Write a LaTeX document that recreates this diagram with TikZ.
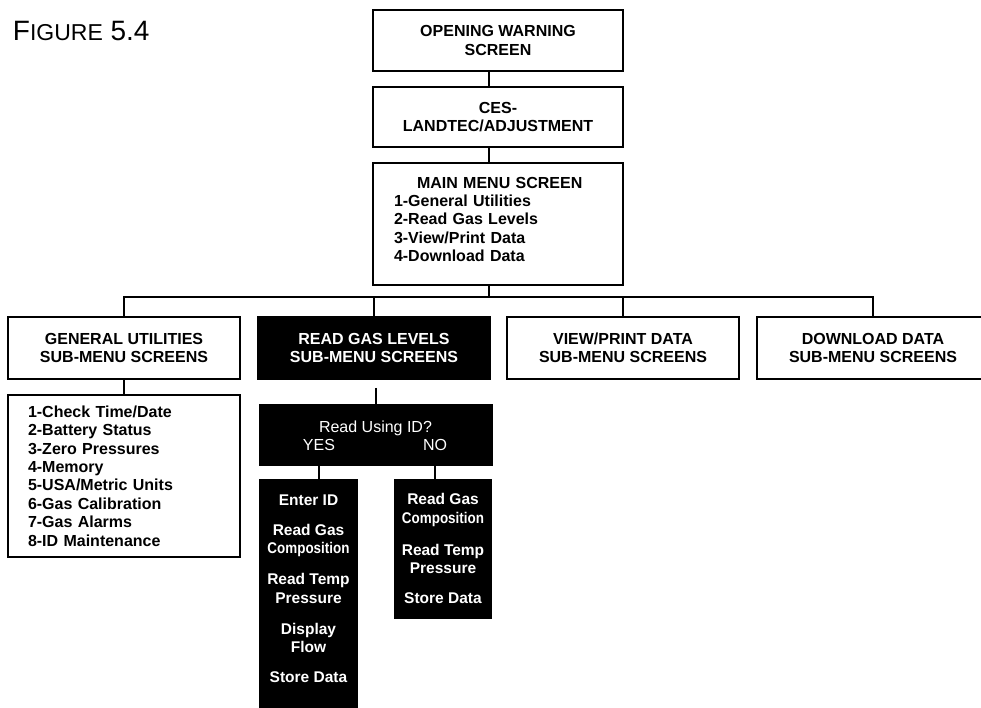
\documentclass[tikz,border=0pt]{standalone}
\usepackage{fontspec}
\usepackage{graphicx}
\setmainfont{Liberation Sans}
\usetikzlibrary{positioning}
\newcommand{\narrow}[1]{\scalebox{0.866}[1]{#1}}

\begin{document}
\begin{tikzpicture}[x=1pt,y=-1pt,
	box/.style={draw, line width=1.5pt, inner sep=0pt, minimum width=232pt, minimum height=62pt, align=center, font=\fontsize{16}{18.4}\selectfont\bfseries},
	blkbox/.style={box, fill=black, text=white},
	colbox/.style={fill=black, text=white, align=center, inner xsep=0pt, anchor=north, font=\fontsize{15.5}{18.5}\selectfont\bfseries},
	lbl/.style={inner sep=0pt, text=white, anchor=base, font=\fontsize{16}{18.4}\selectfont},
	link/.style={line width=1.5pt}]
	\useasboundingbox (0,0) rectangle (981,707);
	\clip (0,0) rectangle (981,707);
	\node[anchor=base west, inner sep=0pt, font=\fontsize{28}{30}\selectfont] (figlbl) at (12.7,40.7) {F{\fontsize{23}{25}\selectfont IGURE} 5.4};
	\node[box, minimum width=250pt, minimum height=61pt] (wscr) at (498,40.5) {OPENING WARNING\\SCREEN};
	\node[box, minimum width=250pt, minimum height=60pt] (ces) at (498,117) {CES-\\LANDTEC/ADJUSTMENT};
	\node[box, minimum width=250pt, minimum height=122pt, align=left, text width=208pt] (mainmenu) at (498,224) {\hspace*{23pt}MAIN MENU SCREEN\\1-General Utilities\\2-Read Gas Levels\\3-View/Print Data\\4-Download Data\\[-9pt]\mbox{}};
	\node[box] (genutil) at (124,348) {GENERAL UTILITIES\\SUB-MENU SCREENS};
	\node[blkbox] (readgas) at (374,348) {READ GAS LEVELS\\SUB-MENU SCREENS};
	\node[box] (viewdata) at (623,348) {VIEW/PRINT DATA\\SUB-MENU SCREENS};
	\node[box] (dldata) at (873,348) {DOWNLOAD DATA\\SUB-MENU SCREENS};
	\node[box, minimum height=162pt, align=left, text width=192pt] (gulist) at (124,476) {1-Check Time/Date\\2-Battery Status\\3-Zero Pressures\\4-Memory\\5-USA/Metric Units\\6-Gas Calibration\\7-Gas Alarms\\8-ID Maintenance};
	\node[blkbox, minimum width=233pt, minimum height=60pt] (quest) at (376,435) {};
	\node[lbl] (qtxt) at (375.5,432) {Read Using ID?};
	\node[lbl] (yeslbl) at (319,450) {YES};
	\node[lbl] (nolbl) at (435,450) {NO};
	\node[colbox, minimum width=99pt, inner ysep=15.5pt] (yescol) at (308.5,479) {Enter ID\\[11.5pt]Read Gas\\\narrow{Composition}\\[12.5pt]Read Temp\\Pressure\\[12.5pt]Display\\Flow\\[11.5pt]Store Data\\\mbox{}};
	\node[colbox, minimum width=98pt, inner ysep=14.5pt] (nocol) at (443,479) {Read Gas\\\narrow{Composition}\\[13.5pt]Read Temp\\Pressure\\[11.5pt]Store Data};
	\coordinate (bus) at (489,297);
	\coordinate (qtop) at ([yshift=-8pt]readgas.south);
	\draw[link] ([xshift=-9pt]wscr.south) -- ([xshift=-9pt]ces.north);
	\draw[link] ([xshift=-9pt]ces.south) -- ([xshift=-9pt]mainmenu.north);
	\draw[link] ([xshift=-9pt]mainmenu.south) -- (bus);
	\draw[link] (genutil.north) -- (genutil.north |- bus) -- (dldata.north |- bus) -- (dldata.north);
	\draw[link] (readgas.north) -- (readgas.north |- bus);
	\draw[link] (viewdata.north) -- (viewdata.north |- bus);
	\draw[link] (genutil.south) -- (gulist.north);
	\draw[link] (qtop -| quest.north) -- (quest.north);
	\draw[link] (yeslbl |- quest.south) -- (yeslbl |- yescol.north);
	\draw[link] (nolbl |- quest.south) -- (nolbl |- nocol.north);
\end{tikzpicture}
\end{document}
